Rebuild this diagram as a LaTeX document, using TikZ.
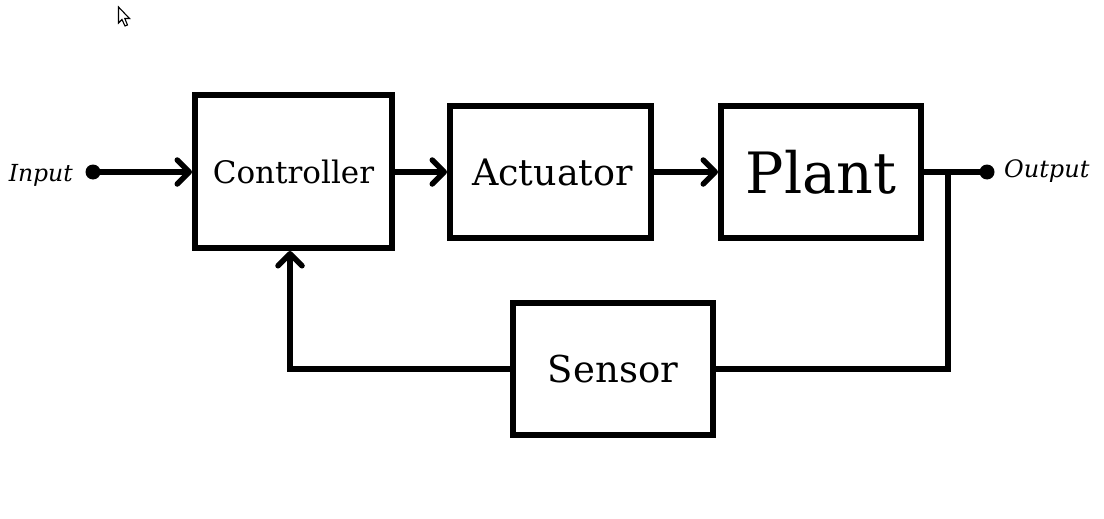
\documentclass[tikz,border=0pt]{standalone}
\usepackage{fontspec}
\setmainfont{DejaVu Serif}
\usetikzlibrary{arrows.meta}
\tikzset{
  blk/.style={draw, line width=6pt, rectangle, inner sep=0pt, align=center},
  wire/.style={line width=5.5pt},
  arr/.style={wire, -{Straight Barb[length=12pt,width=24pt,line cap=round,line join=round]}},
  dotnode/.style={circle, fill, inner sep=0pt, minimum size=15pt},
}
\begin{document}
\begin{tikzpicture}[x=1pt,y=-1pt]
\useasboundingbox (0,0) rectangle (1104,519);
% cursor
\draw[line width=1.1pt, fill=white, line join=miter] (118.5,7) -- (118.5,23) -- (122,19.5) -- (125,26) -- (127.5,25) -- (124.8,18.5) -- (129.5,18.5) -- cycle;
\node[blk, minimum width=197pt, minimum height=153pt] (ctrl) at (293.5,171.5) {\fontsize{31}{40}\selectfont Controller};
\node[blk, minimum width=201pt, minimum height=132pt] (act) at (550.5,172) {\hspace*{4pt}\fontsize{36.5}{46}\selectfont Actuator};
\node[blk, minimum width=200pt, minimum height=132pt] (plant) at (821,172) {\fontsize{57}{66}\selectfont Plant};
\node[blk, minimum width=200pt, minimum height=132pt] (sens) at (613,369) {\fontsize{37}{44}\selectfont Sensor};
\node[dotnode] (in) at (93,172) {};
\node[dotnode] (out) at (987,172) {};
\node[anchor=east, inner sep=0pt] (inlbl) at (73,175) {\fontsize{23.5}{30}\selectfont\itshape Input};
\node[anchor=west, inner sep=0pt] (outlbl) at (1004,171) {\fontsize{24}{30}\selectfont\itshape Output};
\coordinate (br) at (948,172);
\coordinate (fb) at (290,369);
\draw[arr] (in.center) -- (ctrl.west |- in);
\draw[arr] (ctrl.east |- in) -- (act.west |- in);
\draw[arr] (act.east |- in) -- (plant.west |- in);
\draw[wire] (plant.east |- in) -- (out.center);
\draw[wire, line join=miter] (br) -- (br |- sens.east) -- (sens.east);
\draw[arr, line join=miter] (sens.west) -- (fb) -- (fb |- ctrl.south);
\end{tikzpicture}
\end{document}
